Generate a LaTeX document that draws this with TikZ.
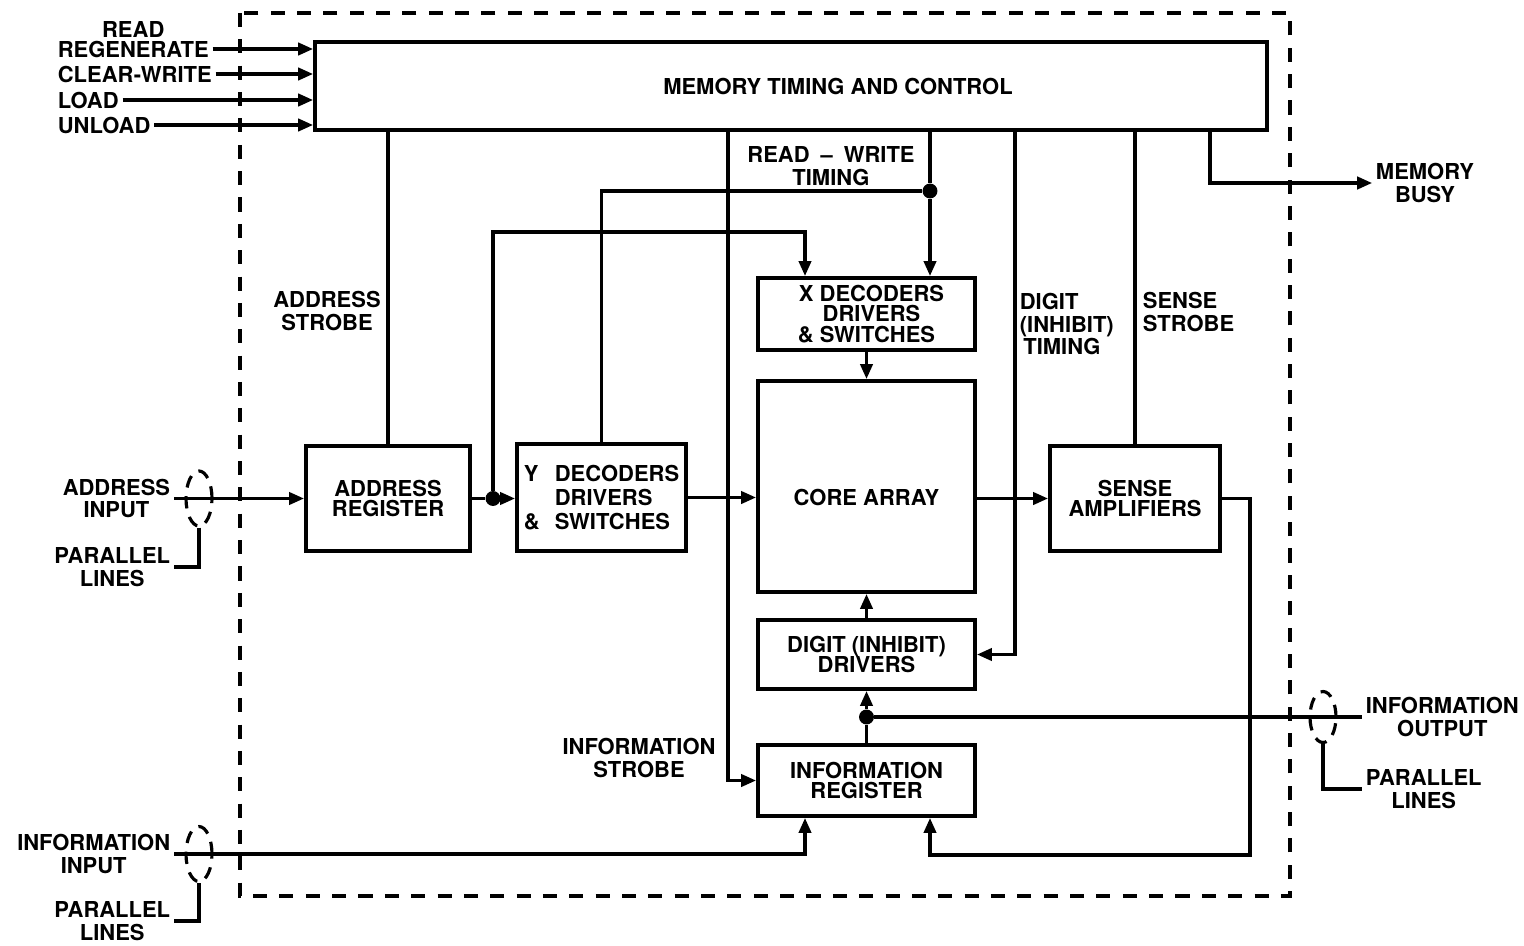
\documentclass[tikz,border=0pt]{standalone}
\usepackage{fontspec}
\setmainfont{TeX Gyre Heros}
\usetikzlibrary{arrows.meta, positioning, shapes.geometric, calc}

\newcommand{\boxfont}{\fontsize{12.5}{11.8}\selectfont\bfseries}
\newcommand{\lblfont}{\fontsize{12.5}{13}\selectfont\bfseries}

\tikzset{
  block/.style={draw, line width=2.3pt, align=center, inner sep=2pt},
  lbl/.style={align=center, inner sep=2pt, font=\lblfont},
  wire/.style={line width=1.8pt},
  flow/.style={wire, -{Triangle[length=8.5pt,width=7pt]}},
  dot/.style={circle, fill, inner sep=0pt, minimum size=8.5pt},
  bundle/.style={ellipse, draw, line width=1.8pt, dash pattern=on 7pt off 5pt,
    minimum width=0.52cm, minimum height=1.1cm, inner sep=0pt},
  frame/.style={line width=1.8pt, dash pattern=on 8pt off 7pt},
}

\begin{document}
\begin{tikzpicture}[x=0.02cm, y=-0.02cm, font=\boxfont]
\useasboundingbox (0,0) rectangle (1524,946);

% outline of the memory unit
\draw[frame] (240,13) rectangle (1290,896);

% blocks
\node[block, minimum width=19.04cm, minimum height=1.76cm,
      label={[xshift=0.94cm]center:MEMORY TIMING AND CONTROL}] (mtc) at (791,86) {};
\node[block, minimum width=3.28cm, minimum height=2.1cm] (areg) at (388,498.5) {ADDRESS\\REGISTER};
\node[block, align=left, minimum width=3.38cm, minimum height=2.14cm] (ydec) at (601.5,497.5)
  {\makebox[0.62cm][l]{Y}DECODERS\\[2pt]\makebox[0.62cm][l]{}DRIVERS\\[2pt]\makebox[0.62cm][l]{\&}SWITCHES};
\node[block, minimum width=4.34cm, minimum height=1.44cm] (xdec) at (866.5,314) {\hspace*{0.2cm}X DECODERS\\\hspace*{0.2cm}DRIVERS\\\& SWITCHES};
\node[block, minimum width=4.34cm, minimum height=4.22cm,
      label={[yshift=-0.21cm]center:CORE ARRAY}] (core) at (866.5,486.5) {};
\node[block, minimum width=4.34cm, minimum height=1.38cm] (ddrv) at (866.5,654.5) {DIGIT (INHIBIT)\\DRIVERS};
\node[block, minimum width=4.34cm, minimum height=1.42cm] (ireg) at (866.5,780.5) {INFORMATION\\REGISTER};
\node[block, minimum width=3.4cm, minimum height=2.1cm] (samp) at (1135,498.5) {SENSE\\AMPLIFIERS};

% control inputs
\node[lbl, anchor=west] (regen) at (54,49) {REGENERATE};
\node[lbl, above=-2.5pt of regen] (read) {READ};
\node[lbl, anchor=west] (clrw) at (54,74) {CLEAR-WRITE};
\node[lbl, anchor=west] (load) at (54,100) {LOAD};
\node[lbl, anchor=west] (unld) at (54,125) {UNLOAD};
\foreach \n in {regen, clrw, load, unld}
  \draw[flow] (\n.east) -- (\n.east -| mtc.west);

% address input
\node[lbl, anchor=east] (ain) at (174,498.5) {ADDRESS\\INPUT};
\node[bundle] (abnd) at (199,498.5) {};
\node[lbl, anchor=east] (apar) at (174,567) {PARALLEL\\LINES};
\draw[flow] (ain.east) -- (areg.west);
\draw[wire] (abnd.south) |- (apar.east);

% address register to decoders
\node[dot] (yj) at (493,498.5) {};
\coordinate (xtap) at (805,232);
\draw[wire] (areg.east) -- (yj);
\draw[flow] (yj) -- (yj -| ydec.west);
\draw[flow] (yj) |- (xtap) -- (xtap |- xdec.north);

% read-write timing
\node[dot] (rwj) at (930,191) {};
\draw[wire] (rwj |- mtc.south) -- (rwj);
\draw[flow] (rwj) -- (rwj |- xdec.north);
\draw[wire] (rwj) -| (ydec.north);

% strobes and timing lines
\coordinate (istb) at (728,0);
\coordinate (dtim) at (1015,0);
\coordinate (bcol) at (1210,0);
\draw[wire] (areg.north) -- (areg.north |- mtc.south);
\draw[flow] (istb |- mtc.south) |- (ireg.west);
\draw[flow] (dtim |- mtc.south) |- (ddrv.east);
\draw[wire] (samp.north) -- (samp.north |- mtc.south);
\node[lbl] (busy) at (1425,183) {MEMORY\\BUSY};
\draw[flow] (bcol |- mtc.south) |- (busy.west);

% core array
\draw[flow] (xdec.south) -- (core.north);
\draw[flow] (ydec.east) -- (ydec.east -| core.west);
\draw[flow] (core.east |- samp.west) -- (samp.west);
\draw[flow] (ddrv.north) -- (core.south);

% information paths
\node[dot] (oj) at (866.5,717) {};
\draw[wire] (ireg.north) -- (oj);
\draw[flow] (oj) -- (ddrv.south);
\node[lbl, anchor=west] (iout) at (1362,717) {INFORMATION\\OUTPUT};
\node[bundle, minimum height=1.02cm] (obnd) at (1323,717) {};
\node[lbl, anchor=west] (opar) at (1362,789) {PARALLEL\\LINES};
\draw[wire] (oj) -- (iout.west);
\draw[wire] (obnd.south) |- (opar.west);

\node[lbl, anchor=east] (iin) at (174,854) {INFORMATION\\INPUT};
\node[bundle] (ibnd) at (199,854) {};
\node[lbl, anchor=east] (ipar) at (174,921) {PARALLEL\\LINES};
\draw[flow] (iin.east) -| (xtap |- ireg.south);
\draw[wire] (ibnd.south) |- (ipar.east);
\coordinate (sret) at (1250,855);
\draw[flow] (samp.east) -| (sret) -| (rwj |- ireg.south);

% signal names
\node[lbl] (astb) at (327,311) {ADDRESS\\STROBE};
\node[lbl] (rwt) at (831,166) {READ\enspace--\enspace WRITE\\TIMING};
\node[lbl, anchor=west, align=left] (dtl) at (1016,324) {DIGIT\\(INHIBIT)\\\hspace{2pt}TIMING};
\node[lbl, anchor=west, align=left] (sstb) at (1139,312) {SENSE\\STROBE};
\node[lbl] (istl) at (639,758) {INFORMATION\\STROBE};
\end{tikzpicture}
\end{document}
